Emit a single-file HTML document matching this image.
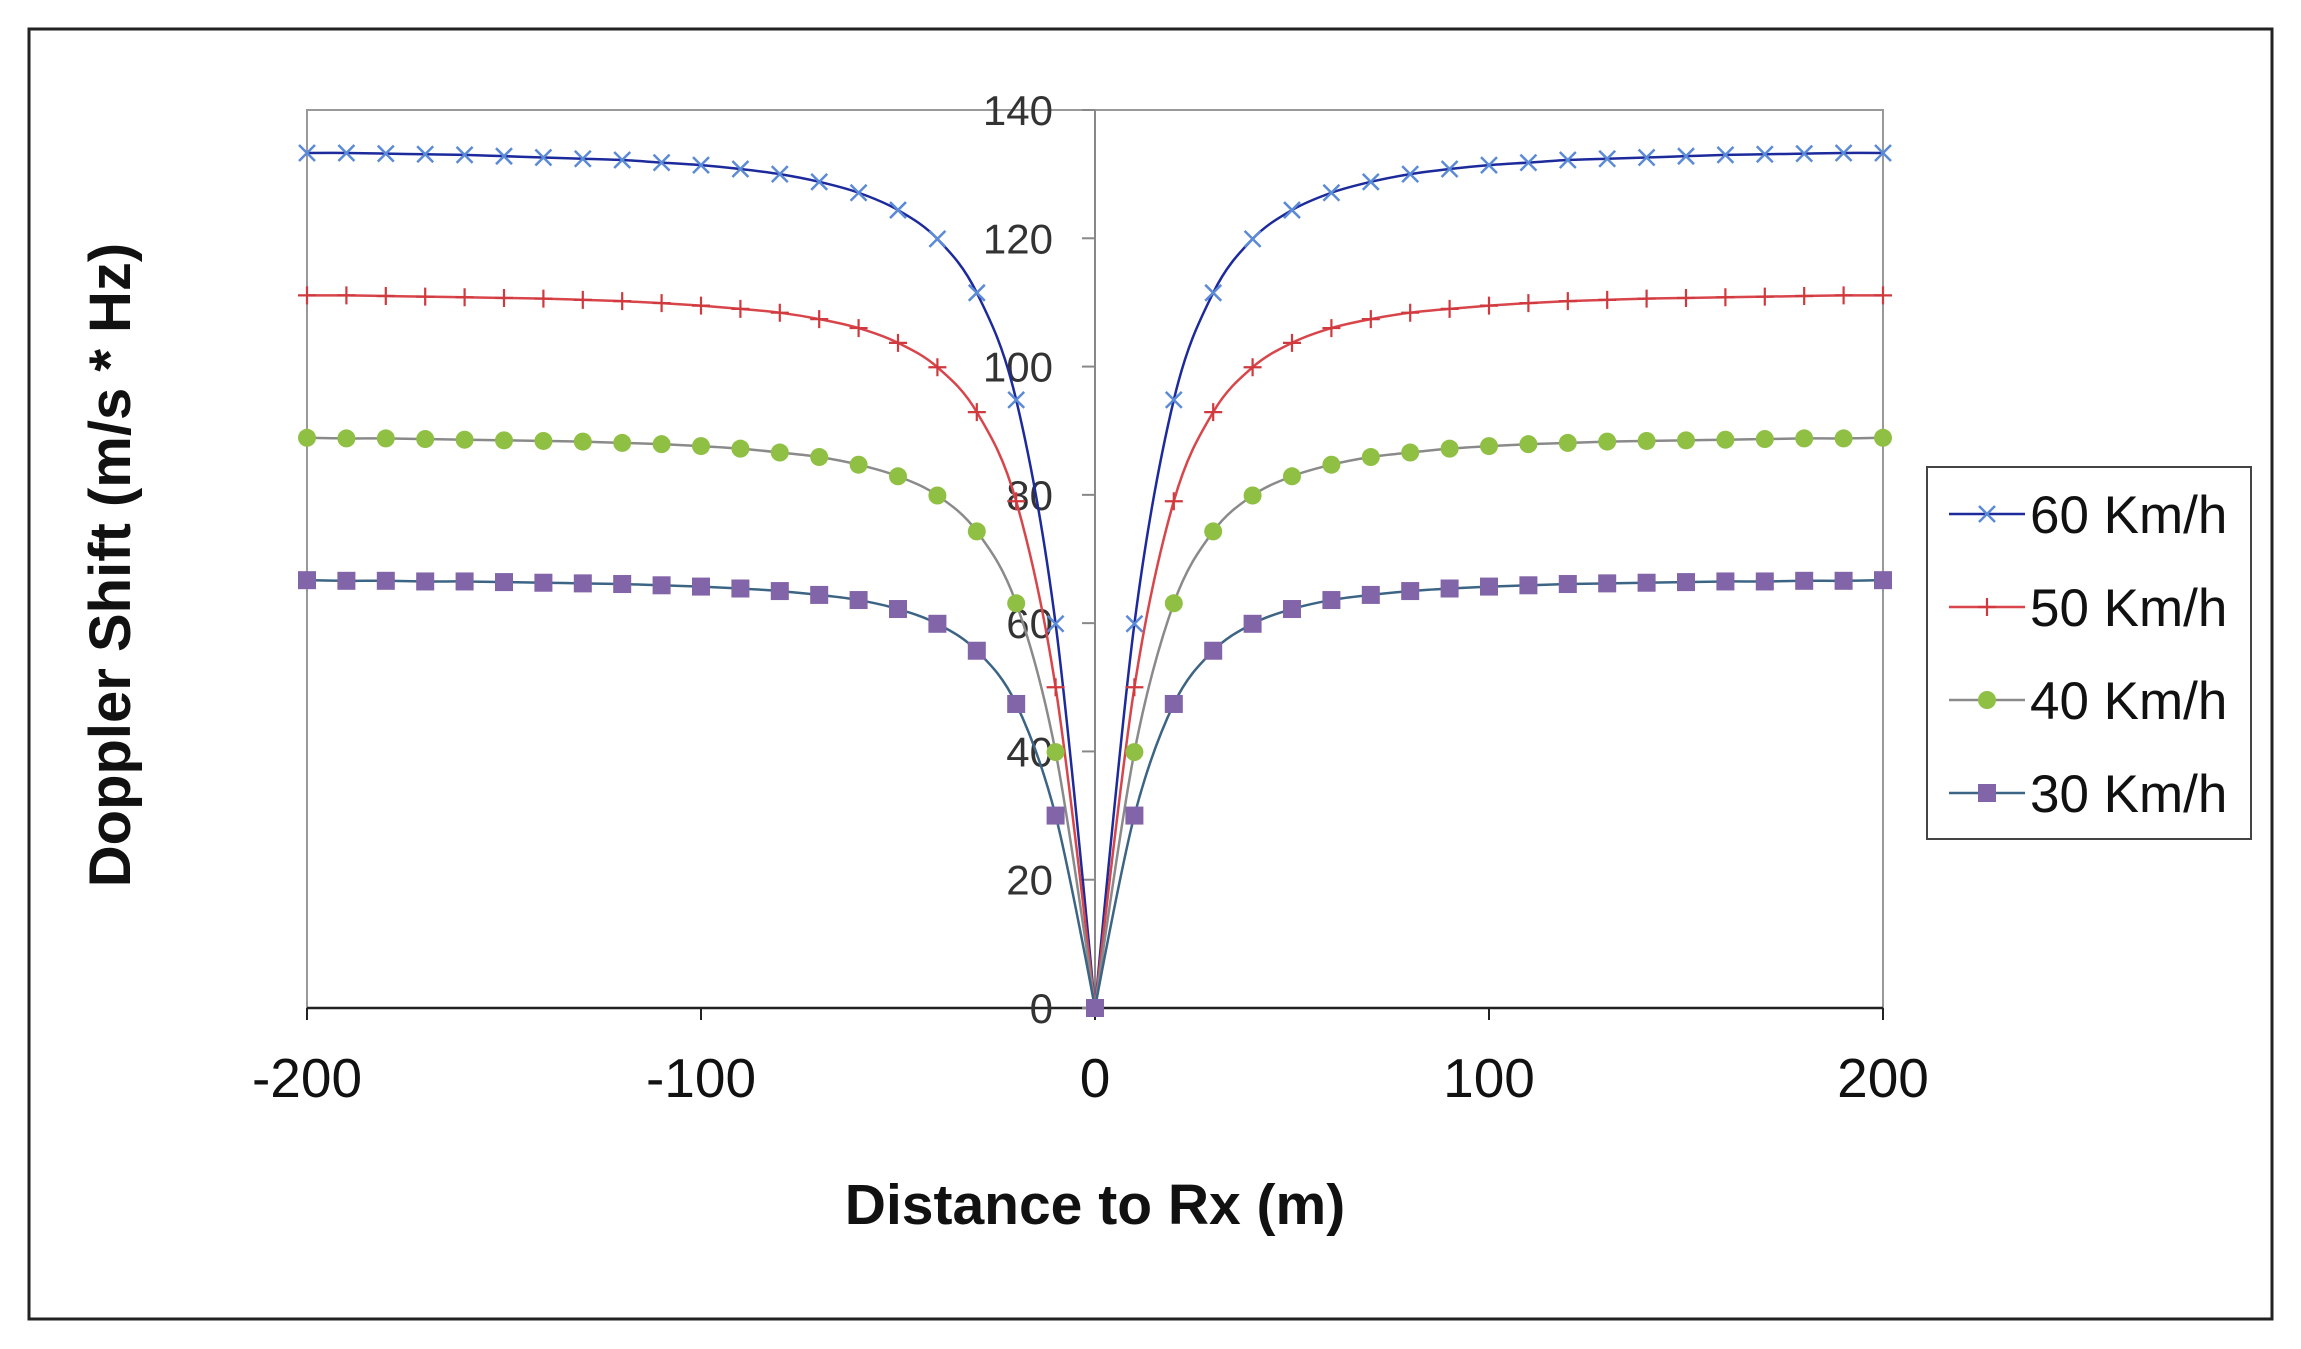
<!DOCTYPE html>
<html><head><meta charset="utf-8"><style>
html,body{margin:0;padding:0;background:#fff;}
svg{display:block;font-family:"Liberation Sans",Arial,sans-serif;}
</style></head><body>
<svg id="chart" width="2301" height="1349" viewBox="0 0 2301 1349" xmlns="http://www.w3.org/2000/svg">
<rect x="29" y="29" width="2243" height="1290" fill="#fff" stroke="#222" stroke-width="3"/>
<rect x="307" y="110" width="1576" height="898" fill="none" stroke="#999" stroke-width="2"/>
<g id="grid"></g>
<g id="series"></g>
<text x="1095" y="1224" font-size="57" font-weight="bold" text-anchor="middle" fill="#111">Distance to Rx (m)</text>
<text transform="translate(130,565) rotate(-90)" font-size="58" font-weight="bold" text-anchor="middle" fill="#111">Doppler Shift (m/s * Hz)</text>
<g>
<rect x="1927" y="467" width="324" height="372" fill="#fff" stroke="#444" stroke-width="2"/>
<g id="legend"></g>
</g>
</svg>
<script>
const distances=[-200,-190,-180,-170,-160,-150,-140,-130,-120,-110,-100,-90,-80,-70,-60,-50,-40,-30,-20,-10,0,10,20,30,40,50,60,70,80,90,100,110,120,130,140,150,160,170,180,190,200];
const v60=[133.3,133.3,133.2,133.1,133.0,132.8,132.6,132.4,132.2,131.8,131.4,130.8,130.0,128.8,127.1,124.4,119.9,111.5,94.8,59.9,0,59.9,94.8,111.5,119.9,124.4,127.1,128.8,130.0,130.8,131.4,131.8,132.2,132.4,132.6,132.8,133.0,133.1,133.2,133.3,133.3];
const v50=[111.1,111.1,111.0,110.9,110.8,110.7,110.6,110.4,110.2,109.9,109.5,109.0,108.4,107.4,106.0,103.7,99.9,92.9,79.0,50.0,0,50.0,79.0,92.9,99.9,103.7,106.0,107.4,108.4,109.0,109.5,109.9,110.2,110.4,110.6,110.7,110.8,110.9,111.0,111.1,111.1];
const v40=[88.9,88.8,88.8,88.7,88.6,88.5,88.4,88.3,88.1,87.9,87.6,87.2,86.6,85.9,84.7,82.9,79.9,74.3,63.1,39.9,0,39.9,63.1,74.3,79.9,82.9,84.7,85.9,86.6,87.2,87.6,87.9,88.1,88.3,88.4,88.5,88.6,88.7,88.8,88.8,88.9];
const v30=[66.7,66.6,66.6,66.5,66.5,66.4,66.3,66.2,66.1,65.9,65.7,65.4,65.0,64.4,63.6,62.2,59.9,55.7,47.4,30.0,0,30.0,47.4,55.7,59.9,62.2,63.6,64.4,65.0,65.4,65.7,65.9,66.1,66.2,66.3,66.4,66.5,66.5,66.6,66.6,66.7];
const seriesNames=["60 Km/h","50 Km/h","40 Km/h","30 Km/h"];
const xTicks=[-200,-100,0,100,200];
const yTicks=[0,20,40,60,80,100,120,140];

const NS="http://www.w3.org/2000/svg";
const X0=307,X1=1883,Y0=1008,Y1=110;
function sx(v){return X0+(v+200)/400*(X1-X0);}
function sy(v){return Y0-v/140*(Y0-Y1);}
function mk(tag,attrs,parent){const e=document.createElementNS(NS,tag);for(const k in attrs)e.setAttribute(k,attrs[k]);parent.appendChild(e);return e;}
const grid=document.getElementById('grid');
let xa=mk('line',{x1:X0,y1:Y0,x2:X1,y2:Y0,stroke:'#222','stroke-width':2.5},grid);


let ya=mk('line',{x1:sx(0),y1:Y0,x2:sx(0),y2:Y1,stroke:'#888','stroke-width':2},grid);


xTicks.forEach(t=>{
  mk('line',{x1:sx(t),y1:Y0,x2:sx(t),y2:Y0+12,stroke:'#222','stroke-width':2},grid);
  const tx=mk('text',{x:sx(t),y:1097,'font-size':55,'text-anchor':'middle',fill:'#111'},grid);
  tx.textContent=t;
  
  
});
yTicks.forEach(t=>{
  mk('line',{x1:sx(0)-13,y1:sy(t),x2:sx(0),y2:sy(t),stroke:'#888','stroke-width':2},grid);
  const tx=mk('text',{x:sx(0)-42,y:sy(t)+15,'font-size':42,'text-anchor':'end',fill:'#333'},grid);
  tx.textContent=t;
  
  
});
function pathFor(vals){
  const pts=distances.map((d,i)=>[sx(d),sy(vals[i])]);
  let p='M'+pts[0][0]+','+pts[0][1];
  for(let i=0;i<pts.length-1;i++){
    const p0=pts[Math.max(0,i-1)],p1=pts[i],p2=pts[i+1],p3=pts[Math.min(pts.length-1,i+2)];
    const t=0.5/3;
    let c1x=p1[0]+(p2[0]-p0[0])*t,c1y=p1[1]+(p2[1]-p0[1])*t;
    let c2x=p2[0]-(p3[0]-p1[0])*t,c2y=p2[1]-(p3[1]-p1[1])*t;
    if(i===19){c2x=p2[0];c2y=p2[1];}
    if(i===20){c1x=p1[0];c1y=p1[1];}
    p+=' C'+c1x+','+c1y+' '+c2x+','+c2y+' '+p2[0]+','+p2[1];
  }
  return p;
}
function marker(type,x,y,g,color){
  if(type==='x'){mk('path',{d:`M${x-8},${y-8}L${x+8},${y+8}M${x-8},${y+8}L${x+8},${y-8}`,stroke:color,'stroke-width':2.5},g);}
  else if(type==='+'){mk('path',{d:`M${x-9},${y}L${x+9},${y}M${x},${y-9}L${x},${y+9}`,stroke:color,'stroke-width':2.2},g);}
  else if(type==='o'){mk('circle',{cx:x,cy:y,r:9,fill:color},g);}
  else {mk('rect',{x:x-9,y:y-9,width:18,height:18,fill:color},g);}
}
const seriesVals=[v60,v50,v40,v30];
const lineColors=['#1c2a9c','#d8454a','#8a8a8a','#3c6484'];
const markColors=['#5b8ad6','#d0393d','#8fc043','#8264a8'];
const markTypes=['x','+','o','s'];
const sg=document.getElementById('series');
const lg=document.getElementById('legend');
seriesVals.forEach((vals,k)=>{
  const g=mk('g',{},sg);
  
  
  mk('path',{d:pathFor(vals),fill:'none',stroke:lineColors[k],'stroke-width':2.5},g);
  distances.forEach((d,i)=>marker(markTypes[k],sx(d),sy(vals[i]),g,markColors[k]));
  const ly=514+k*93;
  const le=mk('g',{},lg);
  
  
  mk('line',{x1:1949,y1:ly,x2:2025,y2:ly,stroke:lineColors[k],'stroke-width':2.5},le);
  marker(markTypes[k],1987,ly,le,markColors[k]);
  const t=mk('text',{x:2030,y:ly+19,'font-size':53,fill:'#111'},le);
  t.textContent=seriesNames[k];
});
</script>
</body></html>
